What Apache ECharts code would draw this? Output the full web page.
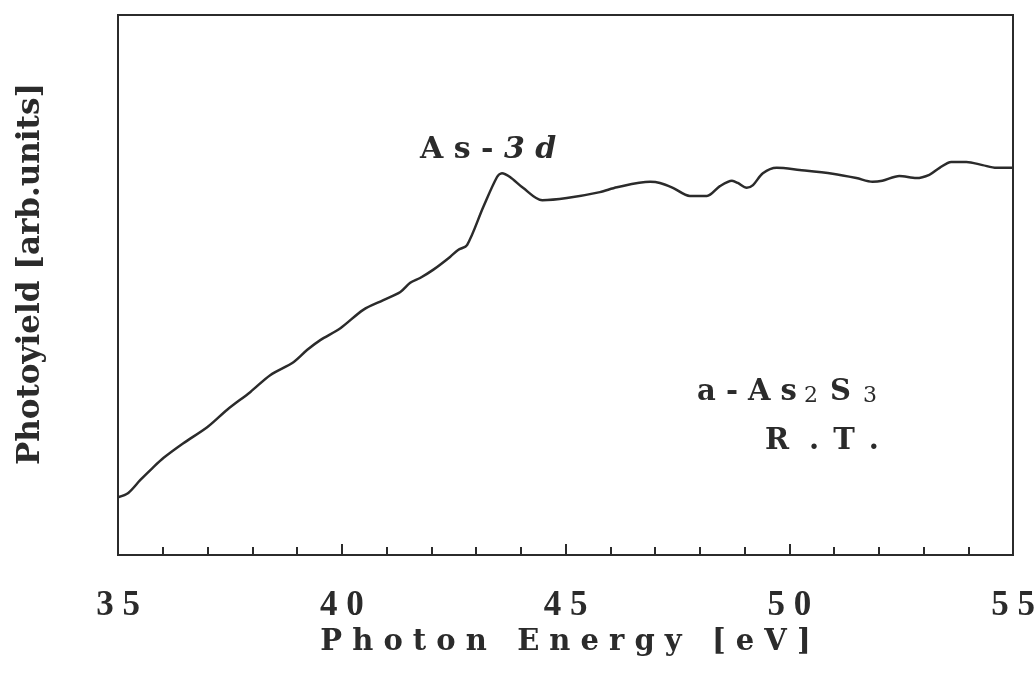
<!DOCTYPE html>
<html>
<head>
<meta charset="utf-8">
<script src="https://cdn.jsdelivr.net/npm/echarts@6/dist/echarts.min.js"></script>
<style>
  html, body { margin: 0; padding: 0; background: #fff; }
  #chart { width: 1035px; height: 680px; }
</style>
</head>
<body>
<div id="chart"></div>
<script>
// Photon energy (eV) sample positions
const energy = [
  35.00, 35.23, 35.50, 35.77, 36.02, 36.46, 37.00, 37.44, 37.96, 38.40,
  38.92, 39.23, 39.52, 39.97, 40.48, 40.93, 41.31, 41.53, 41.75, 42.04,
  42.42, 42.60, 42.80, 43.16, 43.47, 43.58, 43.76, 44.05, 44.48, 45.03,
  45.77, 46.15, 46.89, 47.11, 47.40, 47.78, 48.16, 48.45, 48.72, 48.85,
  49.05, 49.19, 49.41, 49.72, 50.23, 50.97, 51.50, 51.86, 52.08, 52.46,
  52.84, 53.13, 53.36, 53.62, 53.96, 54.32, 54.63, 55.00
];
// Photoyield (arb. units)
const photoyield = [
  10.7, 11.5, 13.9, 16.1, 18.0, 20.7, 23.7, 26.9, 30.2, 33.3,
  35.7, 38.0, 39.8, 42.0, 45.4, 47.2, 48.7, 50.4, 51.3, 52.8,
  55.2, 56.5, 57.4, 64.4, 70.0, 70.7, 70.0, 68.0, 65.7, 66.1,
  67.2, 68.1, 69.1, 68.9, 68.0, 66.5, 66.5, 68.3, 69.3, 68.9,
  68.0, 68.5, 70.7, 71.7, 71.3, 70.6, 69.8, 69.1, 69.3, 70.2,
  69.8, 70.4, 71.7, 72.8, 72.8, 72.2, 71.7, 71.7
];
// Axis range and label ticks
const xRange = [35, 55];
const xMajorTicks = [35, 40, 45, 50, 55];

const ink = '#2b2b2b';
const serif = '"DejaVu Serif", serif';
const tickFont = '"Liberation Serif", "Times New Roman", serif';

const spaced = s => s.split('').join(' ');

const chart = echarts.init(document.getElementById('chart'), null, { renderer: 'canvas' });

chart.setOption({
  backgroundColor: '#ffffff',
  animation: false,
  grid: {
    left: 118, right: 22, top: 15, bottom: 125,
    containLabel: false,
    outerBoundsMode: 'none',
    show: true, borderColor: ink, borderWidth: 2
  },
  xAxis: {
    type: 'value',
    min: xRange[0], max: xRange[1], interval: 5,
    name: spaced('Photon') + '   ' + spaced('Energy') + '   ' + spaced('[eV]'),
    nameLocation: 'middle', nameGap: 53,
    nameTextStyle: { fontFamily: serif, fontWeight: 'bold', fontSize: 29, color: ink },
    axisLine: { show: true, lineStyle: { color: ink, width: 2 } },
    axisTick: { show: true, inside: true, length: 11, lineStyle: { color: ink, width: 2 } },
    minorTick: { show: true, splitNumber: 5, length: 8, lineStyle: { color: ink, width: 2 } },
    splitLine: { show: false },
    axisLabel: {
      margin: 33,
      fontFamily: tickFont, fontWeight: 'bold', fontSize: 35, color: ink,
      customValues: xMajorTicks,
      formatter: v => spaced(String(v))
    }
  },
  yAxis: {
    type: 'value',
    min: 0, max: 100,
    name: 'Photoyield [arb.units]',
    nameLocation: 'middle', nameGap: 72, nameRotate: 90,
    nameTextStyle: {
      fontFamily: serif, fontWeight: 'bold', fontSize: 31, color: ink,
      padding: [0, 0, 0, 22]
    },
    axisLine: { show: true, lineStyle: { color: ink, width: 2 } },
    axisTick: { show: false },
    axisLabel: { show: false },
    splitLine: { show: false }
  },
  series: [{
    type: 'line',
    data: energy.map((e, i) => [e, photoyield[i]]),
    smooth: 0.3,
    showSymbol: false,
    lineStyle: { color: ink, width: 2.5 }
  }],
  graphic: [
    {
      type: 'text', left: 420, top: 135,
      style: {
        text: '{n|A s - }{i|3 d}',
        rich: {
          n: { fontFamily: serif, fontWeight: 'bold', fontSize: 30, fill: ink },
          i: { fontFamily: serif, fontWeight: 'bold', fontStyle: 'italic', fontSize: 30, fill: ink }
        }
      }
    },
    {
      type: 'text', left: 697, top: 378,
      style: {
        text: '{n|a - A s}{s2|2}{n|S}{s3|3}',
        rich: {
          n: { fontFamily: serif, fontWeight: 'bold', fontSize: 29, fill: ink, verticalAlign: 'bottom', lineHeight: 34 },
          s2: { fontFamily: serif, fontSize: 22, fill: ink, verticalAlign: 'bottom', lineHeight: 30, padding: [0, 12, 0, 7] },
          s3: { fontFamily: serif, fontSize: 22, fill: ink, verticalAlign: 'bottom', lineHeight: 30, padding: [0, 0, 0, 12] }
        }
      }
    },
    {
      type: 'text', left: 765, top: 427,
      style: {
        text: '{c|R}{d1|.}{c|T}{d2|.}',
        rich: {
          c: { fontFamily: serif, fontWeight: 'bold', fontSize: 29, fill: ink },
          d1: { fontFamily: serif, fontWeight: 'bold', fontSize: 29, fill: ink, padding: [0, 14, 0, 20] },
          d2: { fontFamily: serif, fontWeight: 'bold', fontSize: 29, fill: ink, padding: [0, 0, 0, 14] }
        }
      }
    }
  ]
});
</script>
</body>
</html>
